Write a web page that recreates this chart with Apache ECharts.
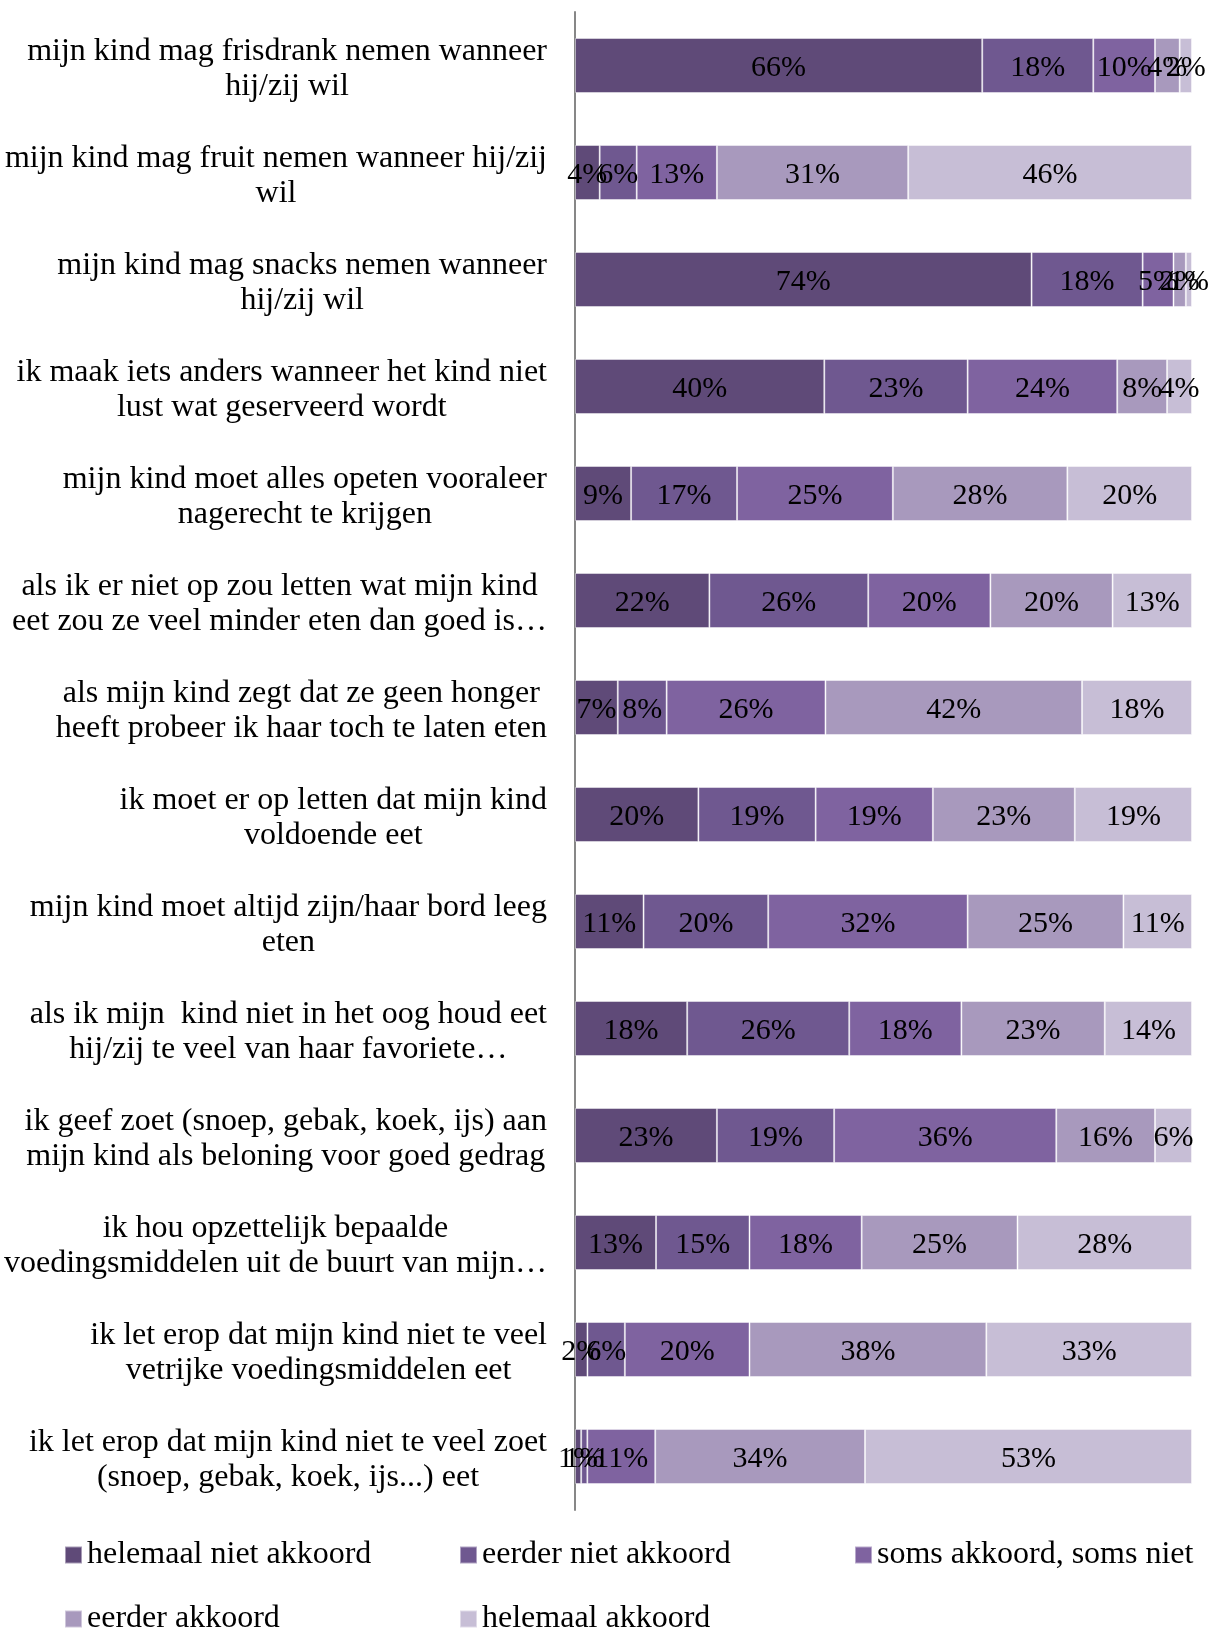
<!DOCTYPE html>
<html>
<head>
<meta charset="utf-8">
<style>
  html, body { margin: 0; padding: 0; background: #ffffff; }
  #chart { width: 1209px; height: 1630px; }
</style>
<script src="https://cdn.jsdelivr.net/npm/echarts@6/dist/echarts.min.js"></script>
</head>
<body>
<div id="chart"></div>
<script>
// Statements, top to bottom
const statements = [
  'mijn kind mag frisdrank nemen wanneer\nhij/zij wil',
  'mijn kind mag fruit nemen wanneer hij/zij\nwil',
  'mijn kind mag snacks nemen wanneer\nhij/zij wil',
  'ik maak iets anders wanneer het kind niet\nlust wat geserveerd wordt',
  'mijn kind moet alles opeten vooraleer\nnagerecht te krijgen',
  'als ik er niet op zou letten wat mijn kind\neet zou ze veel minder eten dan goed is…',
  'als mijn kind zegt dat ze geen honger\nheeft probeer ik haar toch te laten eten',
  'ik moet er op letten dat mijn kind\nvoldoende eet',
  'mijn kind moet altijd zijn/haar bord leeg\neten',
  'als ik mijn  kind niet in het oog houd eet\nhij/zij te veel van haar favoriete…',
  'ik geef zoet (snoep, gebak, koek, ijs) aan\nmijn kind als beloning voor goed gedrag',
  'ik hou opzettelijk bepaalde\nvoedingsmiddelen uit de buurt van mijn…',
  'ik let erop dat mijn kind niet te veel\nvetrijke voedingsmiddelen eet',
  'ik let erop dat mijn kind niet te veel zoet\n(snoep, gebak, koek, ijs...) eet'
];

// Answer categories
const answers = [
  'helemaal niet akkoord',
  'eerder niet akkoord',
  'soms akkoord, soms niet',
  'eerder akkoord',
  'helemaal akkoord'
];

// Percentages per answer, one value per statement (same order as statements)
const helemaalNietAkkoord = [66, 4, 74, 40, 9, 22, 7, 20, 11, 18, 23, 13, 2, 1];
const eerderNietAkkoord   = [18, 6, 18, 23, 17, 26, 8, 19, 20, 26, 19, 15, 6, 1];
const somsAkkoord         = [10, 13, 5, 24, 25, 20, 26, 19, 32, 18, 36, 18, 20, 11];
const eerderAkkoord       = [4, 31, 2, 8, 28, 20, 42, 23, 25, 23, 16, 25, 38, 34];
const helemaalAkkoord     = [2, 46, 1, 4, 20, 13, 18, 19, 11, 14, 6, 28, 33, 53];

const answerValues = [helemaalNietAkkoord, eerderNietAkkoord, somsAkkoord, eerderAkkoord, helemaalAkkoord];
const colors = ['#5f4a78', '#6f5890', '#7f63a0', '#a899bd', '#c7bed6'];

// 100% stacked: each bar is scaled to its row total
const rowTotals = statements.map((_, i) => answerValues.reduce((s, arr) => s + arr[i], 0));

const FONT = '"Liberation Serif", "Times New Roman", serif';

const series = answers.map((name, k) => ({
  name: name,
  type: 'bar',
  stack: 'total',
  barWidth: 55,
  itemStyle: { color: colors[k], borderColor: 'rgba(255,255,255,0.45)', borderWidth: 1 },
  label: {
    show: true,
    position: 'inside',
    offset: [0, 3],
    color: '#000',
    fontFamily: FONT,
    fontSize: 30,
    formatter: p => answerValues[k][p.dataIndex] + '%'
  },
  emphasis: { disabled: true },
  data: answerValues[k].map((v, i) => v / rowTotals[i] * 100)
}));

// One legend block per answer, laid out in a 3 + 2 grid
const legendPos = [
  { left: 64, top: 1539 },
  { left: 459, top: 1539 },
  { left: 854, top: 1539 },
  { left: 64, top: 1603 },
  { left: 459, top: 1603 }
];
const legends = answers.map((name, k) => ({
  data: [name],
  left: legendPos[k].left,
  top: legendPos[k].top,
  orient: 'horizontal',
  itemWidth: 17,
  itemHeight: 17,
  itemGap: 0,
  padding: 0,
  selectedMode: false,
  icon: 'rect',
  textStyle: { fontFamily: FONT, fontSize: 32, color: '#000', padding: [5, 0, 0, 0] }
}));

// Two-line labels: a taller first line nudges the block slightly downward
const labelText = { align: 'center', fontFamily: FONT, fontSize: 32, color: '#000' };

const chart = echarts.init(document.getElementById('chart'), null, { renderer: 'canvas' });
chart.setOption({
  animation: false,
  backgroundColor: '#ffffff',
  color: colors,
  grid: { left: 575, right: 17, top: 12, bottom: 120, containLabel: false },
  legend: legends,
  xAxis: {
    type: 'value',
    min: 0,
    max: 100,
    show: false
  },
  yAxis: {
    type: 'category',
    inverse: true,
    data: statements,
    axisLine: { show: true, lineStyle: { color: '#878787', width: 2 } },
    axisTick: { show: false },
    axisLabel: {
      // label block sits right of the axis gap; its lines are centred within the block
      align: 'right',
      margin: 28,
      formatter: v => v.split('\n')
        .map((line, i) => (i === 0 ? '{a|' : '{c|') + line + '}')
        .join('\n'),
      rich: {
        a: Object.assign({ lineHeight: 43 }, labelText),
        c: Object.assign({ lineHeight: 28 }, labelText)
      }
    }
  },
  series: series
});
</script>
</body>
</html>
